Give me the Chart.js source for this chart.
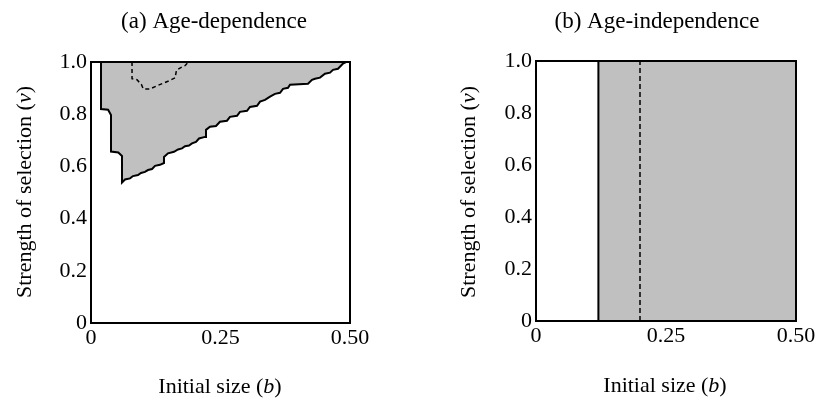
<!DOCTYPE html>
<html>
<head>
<meta charset="utf-8">
<script src="https://cdn.jsdelivr.net/npm/chart.js@4.4.0/dist/chart.umd.min.js"></script>
<style>
  body { margin: 0; background: #fff; }
  .panel { position: absolute; top: 0; height: 400px; }
  #wrapA { left: 0; width: 408px; }
  #wrapB { left: 408px; width: 409px; }
</style>
</head>
<body>
<div class="panel" id="wrapA"><canvas id="chartA"></canvas></div>
<div class="panel" id="wrapB"><canvas id="chartB"></canvas></div>
<script>
// tick labels
const xTickLabels = ['0', '0.25', '0.50'];
const yTickLabels = ['0', '0.2', '0.4', '0.6', '0.8', '1.0'];

// (a) shaded region outline: top edge, left steps, then the staircase up to the right
const regionB_a = [0.5, 0.0193, 0.0193, 0.033, 0.0386, 0.0386, 0.0527, 0.0598, 0.0598,
  0.0656, 0.0753, 0.0811, 0.0907, 0.0965, 0.1042, 0.1100, 0.1178, 0.1236, 0.1332, 0.1409, 0.1409,
  0.1486, 0.1602, 0.1680, 0.1757, 0.1815, 0.1892, 0.1950, 0.2027, 0.2085, 0.2201, 0.2220, 0.2297,
  0.2413, 0.2490, 0.2625, 0.2683, 0.2819, 0.2876, 0.3012, 0.3069, 0.3205, 0.3263, 0.3359, 0.3456,
  0.3552, 0.3649, 0.3707, 0.3803, 0.3842, 0.4189, 0.4266, 0.4324, 0.4421, 0.4517, 0.4614, 0.4672,
  0.4768, 0.4865, 0.4923];
const regionV_a = [1.0, 1.0, 0.82, 0.817, 0.797, 0.657, 0.653, 0.640, 0.538,
  0.550, 0.554, 0.563, 0.567, 0.575, 0.579, 0.586, 0.590, 0.602, 0.606, 0.613, 0.636,
  0.650, 0.656, 0.665, 0.669, 0.677, 0.680, 0.688, 0.694, 0.707, 0.713, 0.740, 0.752,
  0.755, 0.771, 0.775, 0.790, 0.794, 0.809, 0.813, 0.828, 0.832, 0.848, 0.855, 0.867,
  0.878, 0.882, 0.897, 0.901, 0.913, 0.917, 0.932, 0.936, 0.940, 0.955, 0.959, 0.970,
  0.974, 0.994, 1.0];

// (a) dashed contour
const dashB_a = [0.0792, 0.0792, 0.0888, 0.0975, 0.1010, 0.1139, 0.1274, 0.1396, 0.1486, 0.1622, 0.1651, 0.1766, 0.1815, 0.1878];
const dashV_a = [1.0, 0.936, 0.932, 0.913, 0.897, 0.897, 0.909, 0.919, 0.926, 0.939, 0.969, 0.982, 0.986, 1.0];

// (b) shaded region and dashed line
const regionB_b = [0.12, 0.12, 0.5, 0.5];
const regionV_b = [0, 1, 1, 0];
const dashB_b = [0.2, 0.2];
const dashV_b = [0, 1];

const SERIF = '"Liberation Serif", "Times New Roman", serif';
const toPts = (xs, ys) => xs.map((x, i) => ({ x: x, y: ys[i] }));

function drawMixed(ctx, parts, x, y, rot, size) {
  ctx.save();
  ctx.translate(x, y);
  ctx.rotate(rot);
  ctx.textAlign = 'left';
  ctx.textBaseline = 'middle';
  const fonts = parts.map(p => (p[1] ? 'italic ' : '') + size + 'px ' + SERIF);
  let w = 0;
  const ws = parts.map((p, i) => { ctx.font = fonts[i]; const m = ctx.measureText(p[0]).width; w += m; return m; });
  let cx = -w / 2;
  parts.forEach((p, i) => { ctx.font = fonts[i]; ctx.fillText(p[0], cx, 0); cx += ws[i]; });
  ctx.restore();
}

// frame + titles
const panelText = {
  id: 'panelText',
  afterDraw(chart, args, o) {
    const ctx = chart.ctx;
    const a = chart.chartArea;
    ctx.save();
    ctx.strokeStyle = '#000';
    ctx.lineWidth = 2;
    ctx.strokeRect(a.left, a.top, a.right - a.left, a.bottom - a.top);
    ctx.fillStyle = '#000';
    drawMixed(ctx, [[o.title, false]], o.titleX, o.titleY, 0, 23);
    drawMixed(ctx, [['Initial size (', false], ['b', true], [')', false]], o.xTitleX, o.xTitleY, 0, 22);
    drawMixed(ctx, [['Strength of selection (', false], ['v', true], [')', false]], o.yTitleX, o.yTitleY, -Math.PI / 2, 22);
    ctx.restore();
  }
};

function makeOptions(p) {
  return {
    responsive: true,
    maintainAspectRatio: false,
    animation: false,
    layout: { padding: { left: 0, top: p.top, right: p.right, bottom: 0 } },
    plugins: {
      legend: { display: false },
      tooltip: { enabled: false },
      panelText: p.text
    },
    scales: {
      x: {
        type: 'linear', min: 0, max: 0.5,
        grid: { display: false, drawTicks: false },
        border: { display: false },
        ticks: {
          stepSize: 0.25, autoSkip: false, maxRotation: 0, padding: 2, color: '#000',
          font: { family: SERIF, size: 22 },
          callback: (v, i) => xTickLabels[i]
        },
        afterFit(s) { s.height = p.xHeight; s.paddingLeft = 0; s.paddingRight = 0; }
      },
      y: {
        type: 'linear', min: 0, max: 1,
        grid: { display: false, drawTicks: false },
        border: { display: false },
        ticks: {
          stepSize: 0.2, autoSkip: false, padding: 4, color: '#000',
          font: { family: SERIF, size: 22 },
          callback: (v, i) => yTickLabels[i]
        },
        afterFit(s) { s.width = p.yWidth; s.paddingTop = 0; s.paddingBottom = 0; }
      }
    }
  };
}

// dashed series listed first so it is drawn above the shaded region
new Chart(document.getElementById('chartA'), {
  type: 'scatter',
  data: {
    datasets: [
      {
        data: toPts(dashB_a, dashV_a),
        showLine: true, fill: false, borderColor: '#000', borderWidth: 1.5,
        borderDash: [4, 3], pointRadius: 0, clip: false
      },
      {
        data: toPts(regionB_a, regionV_a),
        showLine: true, fill: 'shape', backgroundColor: '#c0c0c0',
        borderColor: '#000', borderWidth: 2, borderJoinStyle: 'miter', pointRadius: 0, clip: false
      }
    ]
  },
  options: makeOptions({
    top: 62, right: 58, xHeight: 77, yWidth: 91,
    text: { title: '(a) Age-dependence', titleX: 214, titleY: 22, xTitleX: 220, xTitleY: 387, yTitleX: 25, yTitleY: 192 }
  }),
  plugins: [panelText]
});

new Chart(document.getElementById('chartB'), {
  type: 'scatter',
  data: {
    datasets: [
      {
        data: toPts(dashB_b, dashV_b),
        showLine: true, fill: false, borderColor: '#000', borderWidth: 1.5,
        borderDash: [5, 3], pointRadius: 0, clip: false
      },
      {
        data: toPts(regionB_b, regionV_b),
        showLine: true, fill: 'shape', backgroundColor: '#c0c0c0',
        borderColor: '#000', borderWidth: 2, borderJoinStyle: 'miter', pointRadius: 0, clip: false
      }
    ]
  },
  options: makeOptions({
    top: 61, right: 21, xHeight: 79, yWidth: 128,
    text: { title: '(b) Age-independence', titleX: 249, titleY: 22, xTitleX: 257, xTitleY: 386, yTitleX: 61, yTitleY: 192 }
  }),
  plugins: [panelText]
});
</script>
</body>
</html>
